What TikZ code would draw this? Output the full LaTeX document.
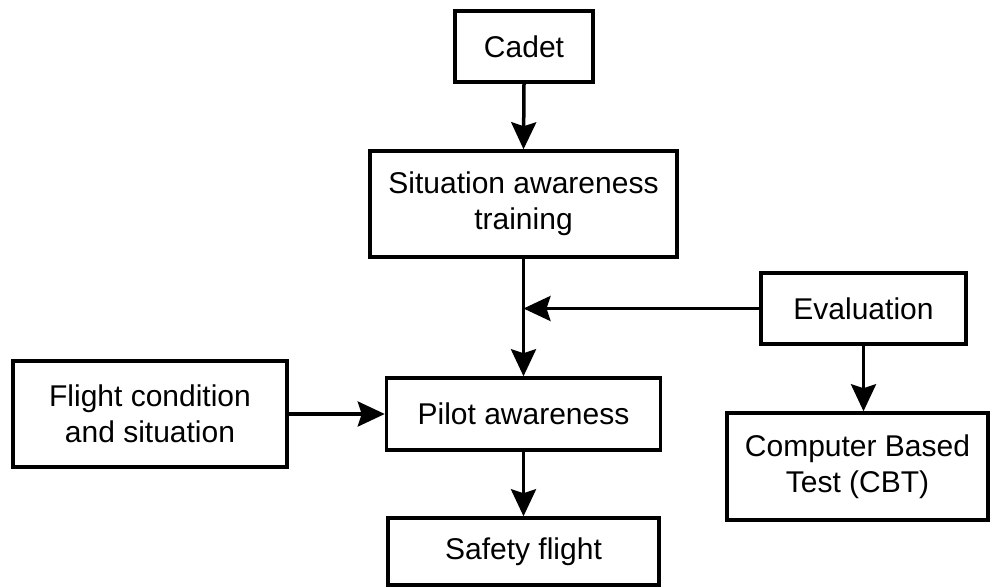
\documentclass[tikz,border=0pt]{standalone}
\usepackage{fontspec}
\setmainfont{Liberation Sans}
\usetikzlibrary{arrows.meta}
\begin{document}
\begin{tikzpicture}[x=1pt,y=-1pt,
  box/.style={draw=black, line width=3.5pt, fill=white, inner sep=0pt, align=center,
    font=\fontsize{30pt}{36pt}\selectfont},
  arr/.style={draw=black, line width=3.5pt,
    -{Stealth[length=27pt,width=25pt,inset=4pt]}}]
\useasboundingbox (0,0) rectangle (992,588);
\node[box, minimum width=138pt, minimum height=71pt] (cadet) at (524,46.5) {Cadet};
\node[box, minimum width=307pt, minimum height=106pt] (sit) at (523.5,204) {Situation awareness\\training};
\node[box, minimum width=205pt, minimum height=71pt] (eval) at (863.5,308.5) {Evaluation};
\node[box, minimum width=274pt, minimum height=106pt] (flight) at (150,414) {Flight condition\\and situation};
\node[box, minimum width=274pt, minimum height=72pt] (pilot) at (523.5,414) {Pilot awareness};
\node[box, minimum width=261pt, minimum height=107pt] (cbt) at (857.5,466.5) {Computer Based\\Test (CBT)};
\node[box, minimum width=271pt, minimum height=67pt] (safe) at (523.5,551.5) {Safety flight};
\draw[arr] (cadet.south) -- (sit.north);
\draw[arr] (sit.south) -- (pilot.north);
\coordinate (j) at (eval.west -| sit.south);
\draw[arr] (eval.west) -- (j);
\draw[arr] (eval.south) -- (eval.south |- cbt.north);
\draw[arr] (flight.east) -- (pilot.west);
\draw[arr] (pilot.south) -- (safe.north);
\end{tikzpicture}
\end{document}
